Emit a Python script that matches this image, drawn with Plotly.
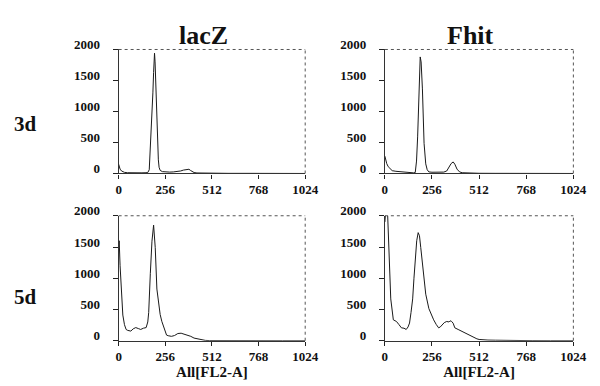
import plotly.graph_objects as go

# ---- data ----
col_titles = ["lacZ", "Fhit"]
row_titles = ["3d", "5d"]
x_ticks = [0, 256, 512, 768, 1024]
y_ticks = [0, 500, 1000, 1500, 2000]
x_title = "All[FL2-A]"

lacz3_x = [0, 4, 8, 16, 24, 32, 48, 64, 96, 128, 150, 160, 168, 174, 180, 184, 188, 192, 197, 200, 204, 208, 213, 218, 222, 228, 240, 256, 280, 300, 320, 340, 356, 368, 378, 386, 394, 404, 414, 430, 460, 512, 600, 700, 800, 900, 1024]
lacz3_y = [150, 110, 70, 40, 25, 18, 12, 10, 10, 10, 12, 15, 60, 380, 750, 1000, 1300, 1630, 1940, 1800, 1380, 1000, 450, 220, 100, 50, 30, 25, 22, 25, 30, 40, 55, 65, 72, 68, 50, 30, 15, 8, 5, 3, 2, 2, 1, 1, 0]

fhit3_x = [0, 4, 10, 18, 28, 40, 60, 80, 100, 120, 140, 155, 165, 172, 178, 186, 192, 197, 204, 213, 222, 230, 239, 256, 280, 300, 320, 336, 348, 360, 371, 380, 392, 406, 420, 440, 480, 512, 600, 700, 800, 900, 1024]
fhit3_y = [280, 230, 160, 110, 72, 45, 35, 30, 20, 12, 10, 10, 15, 200, 590, 1364, 1880, 1800, 1364, 486, 155, 60, 25, 20, 20, 20, 22, 40, 100, 160, 186, 150, 70, 25, 12, 8, 5, 3, 2, 1, 1, 0, 0]

lacz5_x = [0, 3, 8, 14, 23, 32, 41, 50, 67, 80, 94, 108, 121, 136, 151, 160, 165, 174, 183, 192, 201, 210, 219, 228, 237, 254, 263, 272, 290, 307, 325, 343, 360, 379, 396, 414, 432, 450, 476, 500, 540, 600, 700, 800, 900, 1024]
lacz5_y = [1490, 1600, 1200, 823, 411, 257, 180, 165, 154, 190, 210, 195, 180, 200, 210, 300, 450, 1079, 1593, 1850, 1490, 827, 566, 420, 310, 160, 90, 80, 70, 83, 115, 120, 105, 83, 70, 42, 30, 15, 5, 2, 1, 1, 0, 0, 0, 0]

fhit5_x = [0, 8, 14, 20, 25, 32, 46, 63, 76, 90, 104, 116, 126, 134, 142, 151, 158, 165, 173, 181, 188, 195, 208, 222, 239, 252, 265, 279, 292, 301, 310, 323, 336, 348, 354, 362, 371, 380, 398, 415, 432, 450, 468, 486, 500, 512, 530, 560, 600, 650, 700, 800, 900, 1024]
fhit5_y = [1900, 2200, 2100, 1500, 1079, 669, 334, 308, 260, 206, 200, 180, 220, 283, 450, 669, 1000, 1336, 1600, 1730, 1680, 1490, 1079, 745, 514, 420, 334, 260, 206, 220, 257, 290, 308, 300, 318, 310, 280, 206, 180, 154, 130, 103, 80, 41, 30, 20, 12, 10, 8, 4, 2, 1, 0, 0]

panels = [
    (lacz3_x, lacz3_y),
    (fhit3_x, fhit3_y),
    (lacz5_x, lacz5_y),
    (fhit5_x, fhit5_y),
]

W, H = 600, 386
# pixel boxes for the panels (left, right, top, bottom)
col_px = [(119, 311), (393, 587)]
row_px = [(39, 168), (212, 342)]

fig = go.Figure()
font_family = "Liberation Serif, Times New Roman, serif"

x_ticktext = [f"<b>{v}</b>" for v in x_ticks]
y_ticktext = [f"<b>{v}</b>" for v in y_ticks]

k = 0
for r in range(2):
    for c in range(2):
        k += 1
        xs, ys = panels[k - 1]
        xa = "x" if k == 1 else f"x{k}"
        ya = "y" if k == 1 else f"y{k}"
        fig.add_trace(go.Scatter(x=xs, y=ys, mode="lines",
                                 line=dict(color="#1a1a1a", width=1),
                                 xaxis=xa, yaxis=ya, showlegend=False,
                                 hoverinfo="skip"))
        l, rr = col_px[c]
        t, b = row_px[r]
        xkey = "xaxis" if k == 1 else f"xaxis{k}"
        ykey = "yaxis" if k == 1 else f"yaxis{k}"
        fig.update_layout(**{
            xkey: dict(domain=[l / W, rr / W], anchor=ya, range=[0, 1024],
                       tickvals=x_ticks, ticktext=x_ticktext,
                       ticks="outside", ticklen=4,
                       tickcolor="#222", showgrid=False, zeroline=False,
                       showline=True, linecolor="#333", linewidth=1.2,
                       tickfont=dict(family=font_family, size=13, color="#111"),
                       title=dict(text=f"<b>{x_title}</b>" if r == 1 else "",
                                  font=dict(family=font_family, size=15, color="#111"),
                                  standoff=3)),
            ykey: dict(domain=[1 - b / H, 1 - t / H], anchor=xa, range=[0, 2000],
                       tickvals=y_ticks, ticktext=y_ticktext,
                       ticks="outside", ticklen=5,
                       tickcolor="#222", showgrid=False, zeroline=False,
                       showline=True, linecolor="#333", linewidth=1.2,
                       ticklabelstandoff=10, ticklabelshift=-5,
                       tickfont=dict(family=font_family, size=13, color="#111")),
        })
        # dotted top and right borders
        fig.add_shape(type="line", xref=f"{xa} domain", yref=f"{ya} domain",
                      x0=0, x1=1, y0=1, y1=1,
                      line=dict(color="#555", width=1, dash="dot"))
        fig.add_shape(type="line", xref=f"{xa} domain", yref=f"{ya} domain",
                      x0=1, x1=1, y0=0, y1=1,
                      line=dict(color="#555", width=1, dash="dot"))

# column titles
for c, txt in enumerate(col_titles):
    cx = [206, 481][c]
    fig.add_annotation(text=f"<b>{txt}</b>", x=cx / W, y=1 - 24 / H,
                       xref="paper", yref="paper", showarrow=False,
                       xanchor="center", yanchor="middle",
                       font=dict(family=font_family, size=26, color="#111"))
# row titles
for r, txt in enumerate(row_titles):
    cy = [117, 297][r]
    fig.add_annotation(text=f"<b>{txt}</b>", x=23 / W, y=1 - cy / H,
                       xref="paper", yref="paper", showarrow=False,
                       xanchor="center", yanchor="middle",
                       font=dict(family=font_family, size=21, color="#111"))

fig.update_layout(width=W, height=H, margin=dict(l=0, r=0, t=0, b=0),
                  paper_bgcolor="white", plot_bgcolor="white",
                  font=dict(family=font_family, color="#111"))

fig.write_html("out.html",
               config={"displayModeBar": False},
               post_script="document.body.style.margin='0';"
                           "document.body.style.padding='0';"
                           "document.body.style.overflow='hidden';")
